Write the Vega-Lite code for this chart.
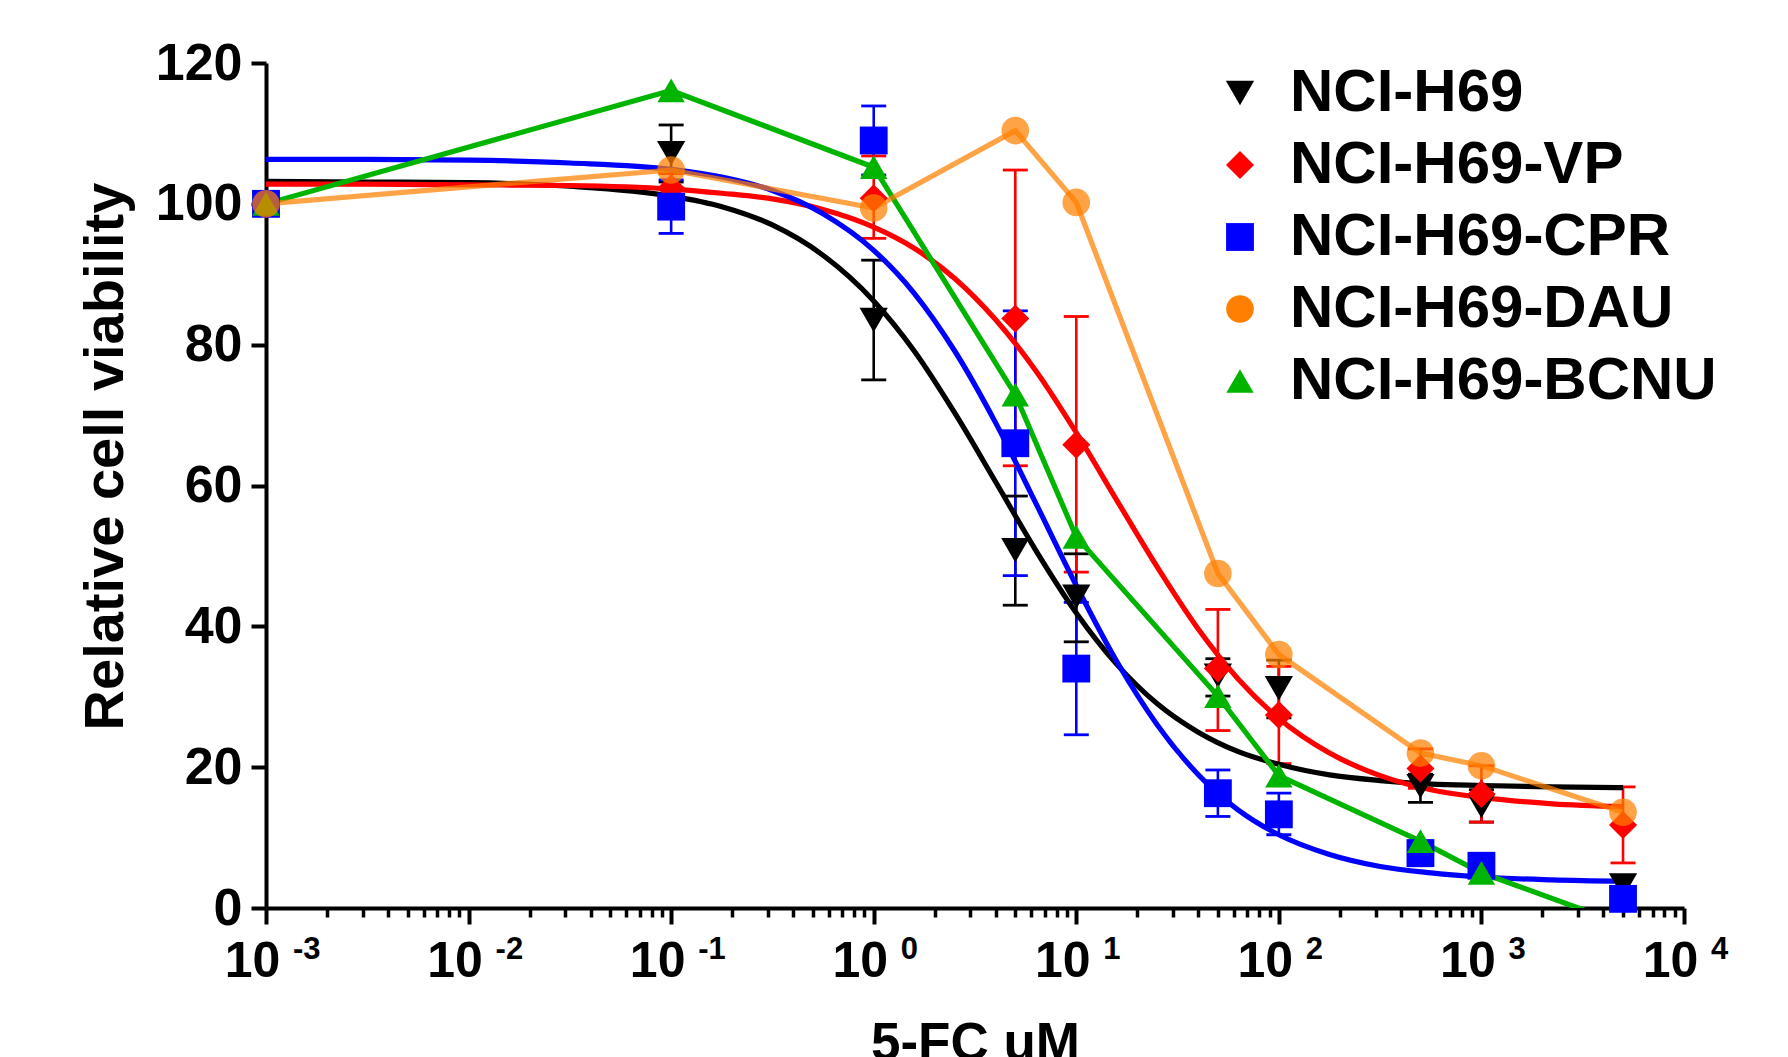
{
  "$schema": "https://vega.github.io/schema/vega-lite/v6.json",
  "width": 1418,
  "height": 845,
  "autosize": {"type": "none"},
  "padding": {"left": 266, "top": 63, "right": 104, "bottom": 149},
  "background": "white",
  "config": {
    "view": {"stroke": null},
    "axis": {"grid": false, "labelFont": "Liberation Sans", "titleFont": "Liberation Sans", "labelFontWeight": "bold", "titleFontWeight": "bold", "labelColor": "black", "titleColor": "black", "domainColor": "black", "tickColor": "black"},
    "legend": {"orient": "none", "legendX": 944, "legendY": 0, "labelFont": "Liberation Sans", "labelFontWeight": "bold", "labelColor": "black", "labelFontSize": 60, "rowPadding": 12, "labelOffset": 20, "padding": 0, "labelLimit": 1000}
  },
  "datasets": {
    "pts": [
      {"series": "NCI-H69", "x": 0.001, "y": 100},
      {"series": "NCI-H69", "x": 0.1, "y": 107.2, "lo": 103.1, "hi": 111.2},
      {"series": "NCI-H69", "x": 1, "y": 83.5, "lo": 75, "hi": 92},
      {"series": "NCI-H69", "x": 5, "y": 50.8, "lo": 43, "hi": 58.5},
      {"series": "NCI-H69", "x": 10, "y": 44.2, "lo": 37.8, "hi": 50.3},
      {"series": "NCI-H69", "x": 50, "y": 33, "lo": 30.1, "hi": 35.4},
      {"series": "NCI-H69", "x": 100, "y": 31.2, "lo": 27, "hi": 35.2},
      {"series": "NCI-H69", "x": 500, "y": 17.3, "lo": 15, "hi": 19},
      {"series": "NCI-H69", "x": 1000, "y": 14.5, "lo": 12.2, "hi": 16.8},
      {"series": "NCI-H69", "x": 5000, "y": 3.2},
      {"series": "NCI-H69-VP", "x": 0.001, "y": 100},
      {"series": "NCI-H69-VP", "x": 0.1, "y": 102.2, "lo": 100.1, "hi": 104.3},
      {"series": "NCI-H69-VP", "x": 1, "y": 100.8, "lo": 95.1, "hi": 106.8},
      {"series": "NCI-H69-VP", "x": 5, "y": 83.7, "lo": 62.8, "hi": 104.8},
      {"series": "NCI-H69-VP", "x": 10, "y": 65.8, "lo": 47.7, "hi": 84},
      {"series": "NCI-H69-VP", "x": 50, "y": 34, "lo": 25.2, "hi": 42.4},
      {"series": "NCI-H69-VP", "x": 100, "y": 27.4, "lo": 20.5, "hi": 34.3},
      {"series": "NCI-H69-VP", "x": 500, "y": 19.8, "lo": 17.0, "hi": 22.6},
      {"series": "NCI-H69-VP", "x": 1000, "y": 16.2, "lo": 12.2, "hi": 20.2},
      {"series": "NCI-H69-VP", "x": 5000, "y": 11.8, "lo": 6.4, "hi": 17.2},
      {"series": "NCI-H69-CPR", "x": 0.001, "y": 100},
      {"series": "NCI-H69-CPR", "x": 0.1, "y": 99.6, "lo": 95.8, "hi": 103.4},
      {"series": "NCI-H69-CPR", "x": 1, "y": 109, "lo": 104.1, "hi": 113.9},
      {"series": "NCI-H69-CPR", "x": 5, "y": 66, "lo": 47.2, "hi": 84.8},
      {"series": "NCI-H69-CPR", "x": 10, "y": 34, "lo": 24.6, "hi": 43.4},
      {"series": "NCI-H69-CPR", "x": 50, "y": 16.3, "lo": 13.0, "hi": 19.6},
      {"series": "NCI-H69-CPR", "x": 100, "y": 13.3, "lo": 10.4, "hi": 16.3},
      {"series": "NCI-H69-CPR", "x": 500, "y": 7.8, "lo": 6.0, "hi": 9.5},
      {"series": "NCI-H69-CPR", "x": 1000, "y": 6.0, "lo": 5.2, "hi": 6.8},
      {"series": "NCI-H69-CPR", "x": 5000, "y": 1.3},
      {"series": "NCI-H69-BCNU", "x": 0.001, "y": 100},
      {"series": "NCI-H69-BCNU", "x": 0.1, "y": 116.1},
      {"series": "NCI-H69-BCNU", "x": 1, "y": 105.2},
      {"series": "NCI-H69-BCNU", "x": 5, "y": 72.9},
      {"series": "NCI-H69-BCNU", "x": 10, "y": 52.7},
      {"series": "NCI-H69-BCNU", "x": 50, "y": 30.1},
      {"series": "NCI-H69-BCNU", "x": 100, "y": 18.8},
      {"series": "NCI-H69-BCNU", "x": 500, "y": 9.5},
      {"series": "NCI-H69-BCNU", "x": 1000, "y": 5.0},
      {"series": "NCI-H69-BCNU", "x": 5000, "y": -2.3},
      {"series": "NCI-H69-DAU", "x": 0.001, "y": 100},
      {"series": "NCI-H69-DAU", "x": 0.1, "y": 104.8},
      {"series": "NCI-H69-DAU", "x": 1, "y": 99.4},
      {"series": "NCI-H69-DAU", "x": 5, "y": 110.4},
      {"series": "NCI-H69-DAU", "x": 10, "y": 100.2},
      {"series": "NCI-H69-DAU", "x": 50, "y": 47.5},
      {"series": "NCI-H69-DAU", "x": 100, "y": 36.0},
      {"series": "NCI-H69-DAU", "x": 500, "y": 22.0},
      {"series": "NCI-H69-DAU", "x": 1000, "y": 20.2},
      {"series": "NCI-H69-DAU", "x": 5000, "y": 13.6}
    ],
    "curves": [
      {"series": "NCI-H69", "x": 0.001, "y": 103.2},
      {"series": "NCI-H69", "x": 0.00316, "y": 103.1},
      {"series": "NCI-H69", "x": 0.01, "y": 103.0},
      {"series": "NCI-H69", "x": 0.0316, "y": 102.5},
      {"series": "NCI-H69", "x": 0.1, "y": 101.1},
      {"series": "NCI-H69", "x": 0.178, "y": 99.6},
      {"series": "NCI-H69", "x": 0.316, "y": 97.0},
      {"series": "NCI-H69", "x": 0.562, "y": 92.7},
      {"series": "NCI-H69", "x": 1, "y": 86.2},
      {"series": "NCI-H69", "x": 1.585, "y": 79.1},
      {"series": "NCI-H69", "x": 2.512, "y": 70.3},
      {"series": "NCI-H69", "x": 3.981, "y": 60.6},
      {"series": "NCI-H69", "x": 6.31, "y": 50.8},
      {"series": "NCI-H69", "x": 10, "y": 41.9},
      {"series": "NCI-H69", "x": 15.85, "y": 34.6},
      {"series": "NCI-H69", "x": 25.12, "y": 29.0},
      {"series": "NCI-H69", "x": 39.81, "y": 25.0},
      {"series": "NCI-H69", "x": 63.1, "y": 22.2},
      {"series": "NCI-H69", "x": 100, "y": 20.4},
      {"series": "NCI-H69", "x": 177.8, "y": 18.9},
      {"series": "NCI-H69", "x": 316.2, "y": 18.1},
      {"series": "NCI-H69", "x": 562.3, "y": 17.6},
      {"series": "NCI-H69", "x": 1000, "y": 17.4},
      {"series": "NCI-H69", "x": 2239, "y": 17.2},
      {"series": "NCI-H69", "x": 5000, "y": 17.1},
      {"series": "NCI-H69-VP", "x": 0.001, "y": 102.8},
      {"series": "NCI-H69-VP", "x": 0.00316, "y": 102.8},
      {"series": "NCI-H69-VP", "x": 0.01, "y": 102.7},
      {"series": "NCI-H69-VP", "x": 0.0316, "y": 102.6},
      {"series": "NCI-H69-VP", "x": 0.1, "y": 102.1},
      {"series": "NCI-H69-VP", "x": 0.178, "y": 101.5},
      {"series": "NCI-H69-VP", "x": 0.316, "y": 100.7},
      {"series": "NCI-H69-VP", "x": 0.562, "y": 99.2},
      {"series": "NCI-H69-VP", "x": 1, "y": 96.7},
      {"series": "NCI-H69-VP", "x": 1.585, "y": 93.7},
      {"series": "NCI-H69-VP", "x": 2.512, "y": 89.4},
      {"series": "NCI-H69-VP", "x": 3.981, "y": 83.6},
      {"series": "NCI-H69-VP", "x": 6.31, "y": 76.3},
      {"series": "NCI-H69-VP", "x": 10, "y": 67.5},
      {"series": "NCI-H69-VP", "x": 15.85, "y": 57.9},
      {"series": "NCI-H69-VP", "x": 25.12, "y": 48.4},
      {"series": "NCI-H69-VP", "x": 39.81, "y": 39.7},
      {"series": "NCI-H69-VP", "x": 63.1, "y": 32.5},
      {"series": "NCI-H69-VP", "x": 100, "y": 26.9},
      {"series": "NCI-H69-VP", "x": 177.8, "y": 22.0},
      {"series": "NCI-H69-VP", "x": 316.2, "y": 18.8},
      {"series": "NCI-H69-VP", "x": 562.3, "y": 16.8},
      {"series": "NCI-H69-VP", "x": 1000, "y": 15.7},
      {"series": "NCI-H69-VP", "x": 2239, "y": 14.8},
      {"series": "NCI-H69-VP", "x": 5000, "y": 14.4},
      {"series": "NCI-H69-CPR", "x": 0.001, "y": 106.3},
      {"series": "NCI-H69-CPR", "x": 0.00316, "y": 106.3},
      {"series": "NCI-H69-CPR", "x": 0.01, "y": 106.2},
      {"series": "NCI-H69-CPR", "x": 0.0316, "y": 105.8},
      {"series": "NCI-H69-CPR", "x": 0.1, "y": 104.9},
      {"series": "NCI-H69-CPR", "x": 0.178, "y": 103.8},
      {"series": "NCI-H69-CPR", "x": 0.316, "y": 101.9},
      {"series": "NCI-H69-CPR", "x": 0.562, "y": 98.6},
      {"series": "NCI-H69-CPR", "x": 1, "y": 93.4},
      {"series": "NCI-H69-CPR", "x": 1.585, "y": 87.3},
      {"series": "NCI-H69-CPR", "x": 2.512, "y": 79.1},
      {"series": "NCI-H69-CPR", "x": 3.981, "y": 69.0},
      {"series": "NCI-H69-CPR", "x": 6.31, "y": 57.5},
      {"series": "NCI-H69-CPR", "x": 10, "y": 45.8},
      {"series": "NCI-H69-CPR", "x": 15.85, "y": 35.0},
      {"series": "NCI-H69-CPR", "x": 25.12, "y": 26.0},
      {"series": "NCI-H69-CPR", "x": 39.81, "y": 19.0},
      {"series": "NCI-H69-CPR", "x": 63.1, "y": 13.9},
      {"series": "NCI-H69-CPR", "x": 100, "y": 10.4},
      {"series": "NCI-H69-CPR", "x": 177.8, "y": 7.6},
      {"series": "NCI-H69-CPR", "x": 316.2, "y": 5.9},
      {"series": "NCI-H69-CPR", "x": 562.3, "y": 5.0},
      {"series": "NCI-H69-CPR", "x": 1000, "y": 4.4},
      {"series": "NCI-H69-CPR", "x": 2239, "y": 4.0},
      {"series": "NCI-H69-CPR", "x": 5000, "y": 3.8}
    ],
    "exps": [
      {"x": 0.001, "e": "-3"},
      {"x": 0.01, "e": "-2"},
      {"x": 0.1, "e": "-1"},
      {"x": 1, "e": "0"},
      {"x": 10, "e": "1"},
      {"x": 100, "e": "2"},
      {"x": 1000, "e": "3"},
      {"x": 10000, "e": "4"}
    ]
  },
  "layer": [
    {
      "data": {"name": "pts"},
      "transform": [{"filter": "isValid(datum.lo)"}],
      "mark": {"type": "rule", "strokeWidth": 2.6},
      "encoding": {
        "x": {"field": "x", "type": "quantitative", "scale": {"type": "log", "domain": [0.001, 10000], "nice": false},
          "axis": {"orient": "bottom", "title": "5-FC uM", "values": [0.001, 0.002, 0.003, 0.004, 0.005, 0.006, 0.007, 0.008, 0.009, 0.01, 0.02, 0.03, 0.04, 0.05, 0.06, 0.07, 0.08, 0.09, 0.1, 0.2, 0.3, 0.4, 0.5, 0.6, 0.7, 0.8, 0.9, 1, 2, 3, 4, 5, 6, 7, 8, 9, 10, 20, 30, 40, 50, 60, 70, 80, 90, 100, 200, 300, 400, 500, 600, 700, 800, 900, 1000, 2000, 3000, 4000, 5000, 6000, 7000, 8000, 9000, 10000],
            "labelExpr": "abs(log(datum.value)/LN10 - round(log(datum.value)/LN10)) < 0.001 ? '10' : ''",
            "labelFontSize": 50, "labelOffset": -14,
            "tickSize": {"condition": {"test": "abs(log(datum.value)/LN10 - round(log(datum.value)/LN10)) < 0.001", "value": 16}, "value": 9},
            "tickWidth": {"condition": {"test": "abs(log(datum.value)/LN10 - round(log(datum.value)/LN10)) < 0.001", "value": 4}, "value": 3.5},
            "domainWidth": 4, "labelPadding": 12, "labelFlush": false, "labelOverlap": false,
            "titleFontSize": 53, "titleY": 151, "titleBaseline": "alphabetic"}},
        "y": {"field": "lo", "type": "quantitative", "scale": {"domain": [0, 120], "nice": false, "zero": false},
          "axis": {"values": [0, 20, 40, 60, 80, 100, 120], "title": "Relative cell viability", "titleFontSize": 56, "labelFontSize": 52, "tickSize": 15, "tickWidth": 4, "domainWidth": 4, "labelPadding": 9, "labelFlush": false, "titleAngle": 270, "titleX": -144, "titleY": 393, "titleBaseline": "alphabetic"}},
        "y2": {"field": "hi"},
        "stroke": {"field": "series", "type": "nominal", "scale": {"domain": ["NCI-H69-BCNU", "NCI-H69-DAU", "NCI-H69-CPR", "NCI-H69-VP", "NCI-H69"], "range": ["#00B400", "#FF8000", "#0000FF", "#FF0000", "#000000"]}, "legend": null}
      }
    },
    {
      "data": {"name": "pts"},
      "transform": [{"filter": "isValid(datum.lo)"}, {"fold": ["lo", "hi"], "as": ["end", "val"]}],
      "mark": {"type": "tick", "orient": "horizontal", "size": 25, "thickness": 2.8, "opacity": 1},
      "encoding": {
        "x": {"field": "x", "type": "quantitative"},
        "y": {"field": "val", "type": "quantitative"},
        "fill": {"field": "series", "type": "nominal", "scale": {"domain": ["NCI-H69-VP", "NCI-H69", "NCI-H69-CPR", "NCI-H69-DAU", "NCI-H69-BCNU"], "range": ["#FF0000", "#000000", "#0000FF", "#FF8000", "#00B400"]}, "legend": null}
      }
    },
    {
      "data": {"name": "curves"},
      "mark": {"type": "line", "strokeWidth": 5.2, "clip": true, "interpolate": "monotone"},
      "encoding": {
        "x": {"field": "x", "type": "quantitative"},
        "y": {"field": "y", "type": "quantitative"},
        "stroke": {"field": "series", "type": "nominal", "legend": null}
      }
    },
    {
      "data": {"name": "pts"},
      "transform": [{"filter": "datum.series === 'NCI-H69-BCNU' || datum.series === 'NCI-H69-DAU'"}],
      "mark": {"type": "line", "strokeWidth": 5.2, "clip": true},
      "encoding": {
        "x": {"field": "x", "type": "quantitative"},
        "y": {"field": "y", "type": "quantitative"},
        "stroke": {"field": "series", "type": "nominal", "legend": null},
        "opacity": {"condition": {"test": "datum.series === 'NCI-H69-DAU'", "value": 0.72}, "value": 1}
      }
    },
    {
      "data": {"name": "pts"},
      "transform": [{"filter": "datum.y >= 0"}],
      "mark": {"type": "point", "filled": true, "opacity": 1},
      "encoding": {
        "x": {"field": "x", "type": "quantitative"},
        "y": {"field": "y", "type": "quantitative"},
        "color": {"field": "series", "type": "nominal", "scale": {"domain": ["NCI-H69", "NCI-H69-VP", "NCI-H69-CPR", "NCI-H69-DAU", "NCI-H69-BCNU"], "range": ["#000000", "#FF0000", "#0000FF", "#FF8000", "#00B400"]}, "legend": {"title": null}},
        "shape": {"field": "series", "type": "nominal", "scale": {"domain": ["NCI-H69", "NCI-H69-VP", "NCI-H69-CPR", "NCI-H69-DAU", "NCI-H69-BCNU"], "range": ["triangle-down", "diamond", "square", "circle", "triangle-up"]}, "legend": {"title": null}},
        "size": {"field": "series", "type": "nominal", "scale": {"domain": ["NCI-H69", "NCI-H69-VP", "NCI-H69-CPR", "NCI-H69-DAU", "NCI-H69-BCNU"], "range": [800, 750, 500, 560, 800]}, "legend": {"title": null}},
        "fillOpacity": {"condition": {"test": "datum.series === 'NCI-H69-DAU'", "value": 0.72}, "value": 1}
      }
    },
    {
      "data": {"name": "exps"},
      "mark": {"type": "text", "font": "Liberation Sans", "fontWeight": "bold", "fontSize": 31, "align": "left", "baseline": "middle", "dx": 27, "dy": 42, "clip": false, "color": "black"},
      "encoding": {
        "x": {"field": "x", "type": "quantitative"},
        "y": {"datum": 0, "type": "quantitative"},
        "text": {"field": "e"}
      }
    }
  ]
}
